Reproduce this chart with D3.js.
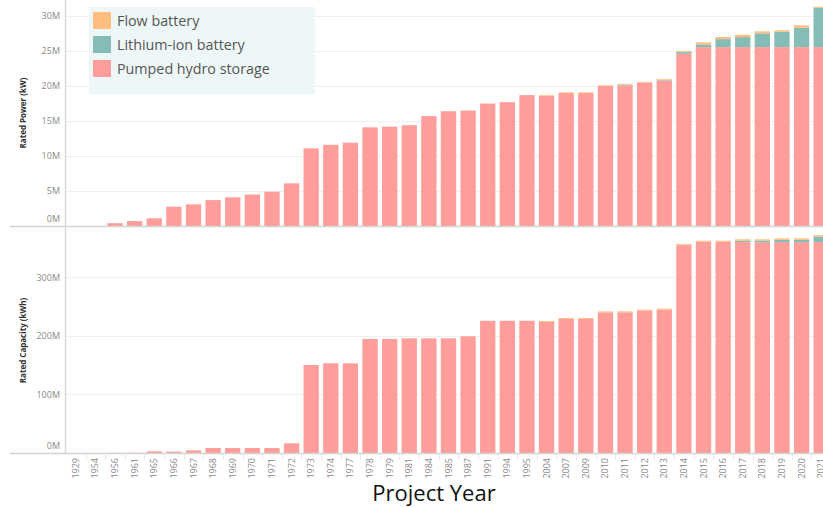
<!DOCTYPE html>
<html>
<head>
<meta charset="utf-8">
<script src="https://cdn.jsdelivr.net/npm/d3@7"></script>
<style>
  body { margin: 0; background: #fff; }
  svg { display: block; font-family: "Open Sans", "Noto Sans", sans-serif; }
</style>
</head>
<body>
<div id="graphic"></div>
<script>
// categories
const years = ["1929","1954","1956","1961","1965","1966","1967","1968","1969","1970","1971","1972",
  "1973","1974","1977","1978","1979","1981","1984","1985","1987","1991","1994","1995","2004","2007",
  "2009","2010","2011","2012","2013","2014","2015","2016","2017","2018","2019","2020","2021"];

// rated power, millions of kW
const powerPumped = [0,0,0.4,0.7,1.1,2.75,3.1,3.7,4.1,4.5,4.9,6.1,
  11.1,11.6,11.9,14.1,14.2,14.4,15.7,16.4,16.5,17.5,17.7,18.7,18.6,19.0,
  19.0,20.0,20.1,20.5,20.8,24.6,25.57,25.57,25.57,25.57,25.57,25.57,25.57];
const powerLithium = [0,0,0,0,0,0,0,0,0,0,0,0,
  0,0,0,0,0,0,0,0,0,0,0,0,0,0,
  0,0,0.12,0,0.1,0.25,0.38,1.14,1.43,1.96,2.19,2.76,5.6];
const powerFlow = [0,0,0,0,0,0,0,0,0,0,0,0,
  0,0,0,0,0,0,0,0,0,0,0,0,0.1,0.1,
  0.1,0.1,0.1,0.1,0.1,0.15,0.3,0.29,0.33,0.29,0.22,0.34,0.16];

// rated capacity, millions of kWh
const capPumped = [0,0,0.3,0.5,2.9,2.3,4.6,8.5,8.5,8.5,8.5,16.5,
  150.4,153.3,153.3,194.9,194.9,196,196,196,199.5,226,226,226,224,229.2,
  229.2,240.3,240.3,243.3,245,355.3,360.7,360.7,360.5,360.3,360.5,360.5,360.5];
const capLithium = [0,0,0,0,0,0,0,0,0,0,0,0,
  0,0,0,0,0,0,0,0,0,0,0,0,0,0,
  0,0,0.2,0,0.2,0,0.4,0.4,2.2,3.0,4.0,4.0,9.5];
const capFlow = [0,0,0,0,0,0,0,0,0,0,0,0,
  0,0,0,0,0,0,0,0,0,0,0,0,1.6,1.6,
  1.6,1.7,1.7,1.7,1.7,1.7,1.8,1.8,2.6,2.0,2.5,2.5,2.6];

const seriesNames = ["Flow battery", "Lithium-ion battery", "Pumped hydro storage"];
const seriesColors = ["#ffbe7d", "#86bcb6", "#ff9d9a"];

const powerTicks = [0, 5, 10, 15, 20, 25, 30];
const capTicks = [0, 100, 200, 300];

const width = 823, height = 508;
const axisX = 65;

const svg = d3.select("#graphic").append("svg")
    .attr("width", width)
    .attr("height", height);

const x = d3.scaleBand()
    .domain(years)
    .range([66, 831])
    .paddingInner(0.22)
    .paddingOuter(0.11);

const keys = ["pumped", "lithium", "flow"];
const color = d3.scaleOrdinal()
    .domain(keys)
    .range(["#ff9d9a", "#86bcb6", "#ffbe7d"]);

function panel(pumped, lithium, flow, yMax, top, bottom, ticks, title) {
    const rows = years.map((yr, i) => ({ year: yr, pumped: pumped[i], lithium: lithium[i], flow: flow[i] }));
    const y = d3.scaleLinear().domain([0, yMax]).range([bottom, top]);

    const g = svg.append("g");

    // gridlines
    g.append("g")
        .selectAll("line")
        .data(ticks.filter(t => t > 0))
        .join("line")
        .attr("x1", axisX)
        .attr("x2", width)
        .attr("y1", d => Math.round(y(d)) + 0.5)
        .attr("y2", d => Math.round(y(d)) + 0.5)
        .attr("stroke", "#efefef")
        .attr("stroke-width", 1);

    // stacked bars
    const stacked = d3.stack().keys(keys)(rows);
    g.append("g")
        .selectAll("g")
        .data(stacked)
        .join("g")
        .attr("fill", d => color(d.key))
        .selectAll("rect")
        .data(d => d)
        .join("rect")
        .attr("x", d => x(d.data.year))
        .attr("width", x.bandwidth())
        .attr("y", d => y(d[1]))
        .attr("height", d => Math.max(0, y(d[0]) - y(d[1])));

    // tick labels
    g.append("g")
        .selectAll("text")
        .data(ticks)
        .join("text")
        .attr("x", 60)
        .attr("y", d => Math.min(y(d), bottom - 7))
        .attr("dy", "0.35em")
        .attr("text-anchor", "end")
        .attr("fill", "#8a8a8a")
        .style("font-size", "9px")
        .text(d => d + "M");

    // baseline
    g.append("line")
        .attr("x1", 10).attr("x2", width)
        .attr("y1", bottom + 0.5).attr("y2", bottom + 0.5)
        .attr("stroke", "#d4d4d4")
        .attr("stroke-width", 1.5);

    // axis title
    g.append("text")
        .attr("transform", `translate(26, ${(top + bottom) / 2}) rotate(-90)`)
        .attr("text-anchor", "middle")
        .attr("fill", "#333")
        .style("font-size", "8px")
        .style("font-weight", "bold")
        .text(title);

    return y;
}

panel(powerPumped, powerLithium, powerFlow, 32.3, 0, 226, powerTicks, "Rated Power (kW)");
panel(capPumped, capLithium, capFlow, 384.6, 228, 453, capTicks, "Rated Capacity (kWh)");

// vertical axis line
svg.append("line")
    .attr("x1", axisX + 0.5).attr("x2", axisX + 0.5)
    .attr("y1", 0).attr("y2", 454)
    .attr("stroke", "#d9d9d9")
    .attr("stroke-width", 1.5);

// x tick separators
svg.append("g")
    .selectAll("line")
    .data(years.slice(1))
    .join("line")
    .attr("x1", d => Math.round(x(d) - x.step() * x.paddingInner() / 2) + 0.5)
    .attr("x2", d => Math.round(x(d) - x.step() * x.paddingInner() / 2) + 0.5)
    .attr("y1", 454).attr("y2", 460)
    .attr("stroke", "#eaeaea");

// x labels
svg.append("g")
    .selectAll("text")
    .data(years)
    .join("text")
    .attr("transform", d => `translate(${x(d) + x.bandwidth() / 2 + 3}, 458) rotate(-90)`)
    .attr("text-anchor", "end")
    .attr("fill", "#8a8a8a")
    .style("font-size", "9px")
    .text(d => d);

svg.append("text")
    .attr("x", 434)
    .attr("y", 501)
    .attr("text-anchor", "middle")
    .attr("fill", "#111")
    .style("font-size", "22px")
    .text("Project Year");

// legend
const legend = svg.append("g");
legend.append("rect")
    .attr("x", 89).attr("y", 7)
    .attr("width", 226).attr("height", 87)
    .attr("fill", "#eef7f7");

const item = legend.selectAll("g")
    .data(seriesNames)
    .join("g")
    .attr("transform", (d, i) => `translate(93, ${12 + i * 24})`);

item.append("rect")
    .attr("width", 18).attr("height", 17)
    .attr("fill", (d, i) => seriesColors[i]);

item.append("text")
    .attr("x", 24)
    .attr("y", 14)
    .attr("fill", "#555")
    .style("font-size", "14.3px")
    .text(d => d);
</script>
</body>
</html>
